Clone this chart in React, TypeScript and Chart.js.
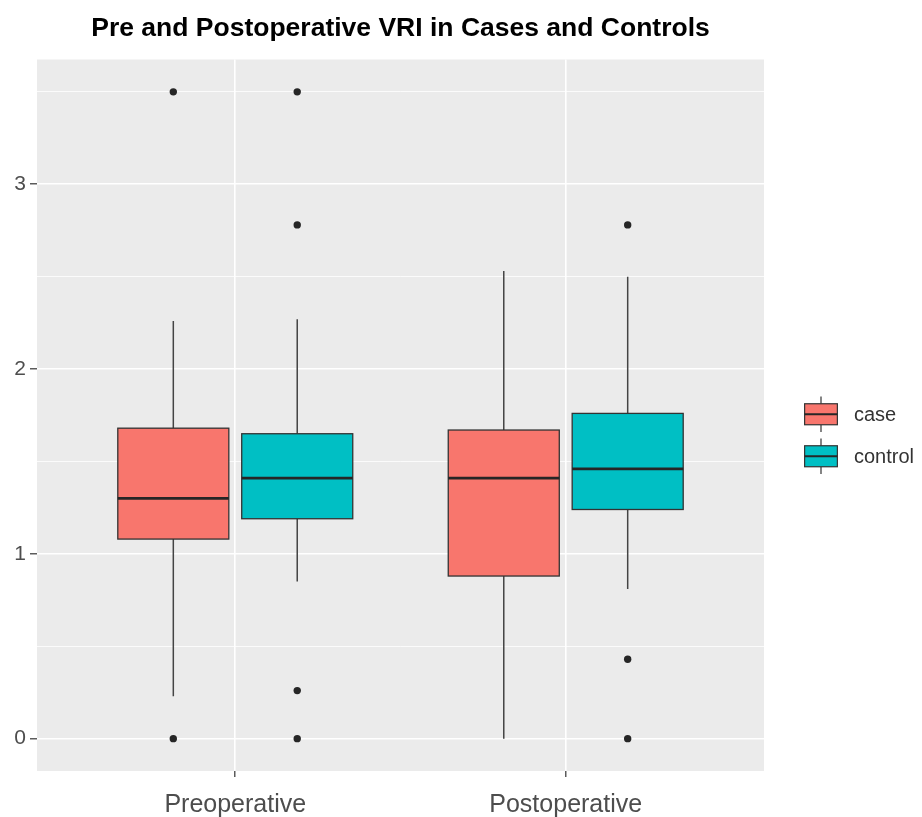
import React, { useEffect, useRef } from 'react';
import { Chart, registerables } from 'chart.js';

Chart.register(...registerables);

// ---------- data ----------
const categories = ['Preoperative', 'Postoperative'];
const groups = ['case', 'control'];
const groupColors = ['#F8766D', '#00BFC4'];

const caseLowerWhisker = [0.23, 0.0];
const caseQ1 = [1.08, 0.88];
const caseMedian = [1.3, 1.41];
const caseQ3 = [1.68, 1.67];
const caseUpperWhisker = [2.26, 2.53];
const caseOutliers = [[3.5, 0.0], []];

const controlLowerWhisker = [0.85, 0.81];
const controlQ1 = [1.19, 1.24];
const controlMedian = [1.41, 1.46];
const controlQ3 = [1.65, 1.76];
const controlUpperWhisker = [2.27, 2.5];
const controlOutliers = [[3.5, 2.78, 0.26, 0.0], [2.78, 0.43, 0.0]];

const yMajorTicks = [0, 1, 2, 3];
const yMinorTicks = [0.5, 1.5, 2.5, 3.5];

const title = 'Pre and Postoperative VRI in Cases and Controls';

// ---------- derived tables ----------
const stats = [
  { low: caseLowerWhisker, q1: caseQ1, med: caseMedian, q3: caseQ3, high: caseUpperWhisker, out: caseOutliers },
  { low: controlLowerWhisker, q1: controlQ1, med: controlMedian, q3: controlQ3, high: controlUpperWhisker, out: controlOutliers },
];

const FONT = '"Liberation Sans", Arial, Helvetica, sans-serif';
const DODGE = 0.1875;
const BOX_HALF = 0.168;

const groupCenter = (gi: number, ci: number) => ci + 1 + (gi === 0 ? -DODGE : DODGE);

const panelBackground = {
  id: 'panelBackground',
  beforeDraw(chart: any) {
    const { ctx, chartArea: a } = chart;
    ctx.save();
    ctx.fillStyle = '#EBEBEB';
    ctx.fillRect(a.left, a.top, a.right - a.left, a.bottom - a.top);
    ctx.restore();
  },
};

const boxplotPlugin = {
  id: 'boxplotBoxes',
  beforeDatasetsDraw(chart: any) {
    const { ctx } = chart;
    const xs = chart.scales.x;
    const ys = chart.scales.y;
    ctx.save();
    groups.forEach((_, gi) => {
      const s = stats[gi];
      categories.forEach((__, ci) => {
        const c = groupCenter(gi, ci);
        const xc = xs.getPixelForValue(c);
        const xl = xs.getPixelForValue(c - BOX_HALF);
        const xr = xs.getPixelForValue(c + BOX_HALF);
        const yLow = ys.getPixelForValue(s.low[ci]);
        const yQ1 = ys.getPixelForValue(s.q1[ci]);
        const yMed = ys.getPixelForValue(s.med[ci]);
        const yQ3 = ys.getPixelForValue(s.q3[ci]);
        const yHigh = ys.getPixelForValue(s.high[ci]);
        // whiskers
        ctx.strokeStyle = '#444444';
        ctx.lineWidth = 1.5;
        ctx.beginPath();
        ctx.moveTo(xc, yHigh);
        ctx.lineTo(xc, yQ3);
        ctx.moveTo(xc, yQ1);
        ctx.lineTo(xc, yLow);
        ctx.stroke();
        // box
        ctx.fillStyle = groupColors[gi];
        ctx.fillRect(xl, yQ3, xr - xl, yQ1 - yQ3);
        ctx.strokeStyle = '#333333';
        ctx.lineWidth = 1.3;
        ctx.strokeRect(xl, yQ3, xr - xl, yQ1 - yQ3);
        // median
        ctx.lineWidth = 2.6;
        ctx.strokeStyle = '#262626';
        ctx.beginPath();
        ctx.moveTo(xl, yMed);
        ctx.lineTo(xr, yMed);
        ctx.stroke();
      });
    });
    ctx.restore();
  },
};

const legendPlugin = {
  id: 'boxLegend',
  afterDraw(chart: any) {
    const { ctx, chartArea: a } = chart;
    const S = 42;
    const keyLeft = a.right + 36;
    const centerY = (a.top + chart.height) / 2 - 3;
    const top = centerY - (groups.length * S) / 2;
    ctx.save();
    groups.forEach((g, gi) => {
      const cy = top + S / 2 + gi * S;
      const cx = keyLeft + S / 2;
      const bx = keyLeft + 0.11 * S;
      const bw = 0.78 * S;
      const by = top + gi * S + 0.25 * S;
      const bh = 0.5 * S;
      ctx.strokeStyle = '#444444';
      ctx.lineWidth = 1.3;
      ctx.beginPath();
      ctx.moveTo(cx, top + gi * S + 0.08 * S);
      ctx.lineTo(cx, by);
      ctx.moveTo(cx, by + bh);
      ctx.lineTo(cx, top + gi * S + 0.92 * S);
      ctx.stroke();
      ctx.fillStyle = groupColors[gi];
      ctx.fillRect(bx, by, bw, bh);
      ctx.strokeStyle = '#333333';
      ctx.lineWidth = 1.2;
      ctx.strokeRect(bx, by, bw, bh);
      ctx.lineWidth = 2.2;
      ctx.strokeStyle = '#262626';
      ctx.beginPath();
      ctx.moveTo(bx, cy);
      ctx.lineTo(bx + bw, cy);
      ctx.stroke();
      ctx.fillStyle = '#333333';
      ctx.font = `20px ${FONT}`;
      ctx.textAlign = 'left';
      ctx.textBaseline = 'middle';
      ctx.fillText(g, keyLeft + S + 12, cy + 1);
    });
    ctx.restore();
  },
};

export default function App() {
  const canvasRef = useRef<HTMLCanvasElement | null>(null);

  useEffect(() => {
    if (!canvasRef.current) return;
    const datasets = groups.map((g, gi) => ({
      label: g,
      data: stats[gi].out.flatMap((vals, ci) => vals.map((v) => ({ x: groupCenter(gi, ci), y: v }))),
      pointRadius: 3.7,
      pointHoverRadius: 3.7,
      backgroundColor: '#262626',
      borderWidth: 0,
      showLine: false,
    }));

    const chart = new Chart(canvasRef.current, {
      type: 'scatter',
      data: { datasets },
      plugins: [panelBackground, boxplotPlugin, legendPlugin],
      options: {
        animation: false,
        responsive: true,
        maintainAspectRatio: false,
        layout: { padding: { left: 0, right: 158, top: 0, bottom: 0 } },
        plugins: {
          legend: { display: false },
          tooltip: { enabled: false },
          title: {
            display: true,
            text: title,
            fullSize: false,
            color: '#000000',
            font: { family: FONT, size: 26.5, weight: 'bold', lineHeight: 1.2 },
            padding: { top: 13, bottom: 14.7 },
          },
        },
        scales: {
          x: {
            type: 'linear',
            min: 0.4,
            max: 2.6,
            afterBuildTicks: (scale: any) => {
              scale.ticks = categories.map((_, i) => ({ value: i + 1 }));
            },
            afterFit: (scale: any) => {
              scale.height = 46;
            },
            border: { display: false },
            grid: {
              color: '#FFFFFF',
              lineWidth: 1.6,
              tickColor: '#333333',
              tickWidth: 1.2,
              tickLength: 6,
            },
            ticks: {
              autoSkip: false,
              maxRotation: 0,
              padding: 13,
              color: '#4D4D4D',
              font: { family: FONT, size: 25 },
              callback: (v: any) => categories[Math.round(Number(v)) - 1] ?? '',
            },
          },
          y: {
            type: 'linear',
            min: -0.175,
            max: 3.675,
            afterBuildTicks: (scale: any) => {
              scale.ticks = [...yMajorTicks, ...yMinorTicks].sort((a, b) => a - b).map((v) => ({ value: v }));
            },
            afterFit: (scale: any) => {
              scale.width = 37;
            },
            border: { display: false },
            grid: {
              color: '#FFFFFF',
              lineWidth: (c: any) => (yMajorTicks.includes(c.tick?.value) ? 1.6 : 0.8),
              tickColor: (c: any) => (yMajorTicks.includes(c.tick?.value) ? '#333333' : 'rgba(0,0,0,0)'),
              tickWidth: 1.2,
              tickLength: 7,
            },
            ticks: {
              autoSkip: false,
              padding: 4,
              color: '#4D4D4D',
              font: { family: FONT, size: 21 },
              callback: (v: any) => (yMajorTicks.includes(Number(v)) ? String(v) : ''),
            },
          },
        },
      } as any,
    });
    return () => chart.destroy();
  }, []);

  return (
    <div style={{ position: 'absolute', left: 0, top: 0, width: 922, height: 817, background: '#FFFFFF' }}>
      <canvas ref={canvasRef} />
    </div>
  );
}
